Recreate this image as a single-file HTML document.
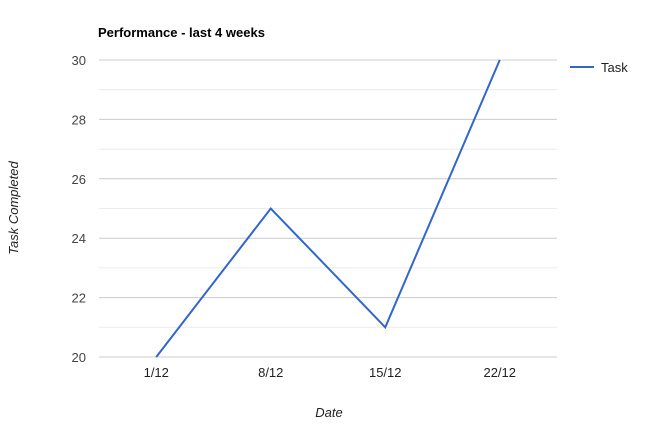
<!DOCTYPE html>
<html><head><meta charset="utf-8"><style>
html,body{margin:0;padding:0;background:#fff;}
svg{display:block;font-family:"Liberation Sans",Arial,sans-serif;}
</style></head><body>
<svg id="chart" width="652" height="426">
<text x="98" y="37" font-size="13" font-weight="bold" fill="#000">Performance - last 4 weeks</text>
<g id="grid"></g>
<g id="yticks"></g>
<g id="xticks"></g>
<g id="series"></g>
<text transform="translate(18,208) rotate(-90)" text-anchor="middle" font-size="13" font-style="italic" fill="#222">Task Completed</text>
<text x="329" y="417" text-anchor="middle" font-size="13" font-style="italic" fill="#222">Date</text>
<g>
<line x1="570" y1="67" x2="594" y2="67" stroke="#3366cc" stroke-width="2"/>
<text x="601" y="72" font-size="13" fill="#222">Task</text>
</g>
</svg>
<script>
const categories = ["1/12","8/12","15/12","22/12"];
const taskValues = [20,25,21,30];
const yTicks = [20,22,24,26,28,30];
const yMinor = [21,23,25,27,29];

const NS="http://www.w3.org/2000/svg";
const L=99,R=557,T=60,B=357,yMin=20,yMax=30;
const band=(R-L)/categories.length;
function xs(i){return L+band*(i+0.5);}
function ys(v){return B-(v-yMin)/(yMax-yMin)*(B-T);}
function mk(tag,attrs,parent){const e=document.createElementNS(NS,tag);for(const k in attrs)e.setAttribute(k,attrs[k]);parent.appendChild(e);return e;}
const grid=document.getElementById('grid'),yt=document.getElementById('yticks'),xt=document.getElementById('xticks'),ser=document.getElementById('series');
yMinor.forEach(v=>{const l=mk('line',{x1:L,x2:R,y1:ys(v),y2:ys(v),stroke:'#ebebeb','stroke-width':1},grid);

});
yTicks.forEach(v=>{const l=mk('line',{x1:L,x2:R,y1:ys(v),y2:ys(v),stroke:'#ccc','stroke-width':1},grid);


const t=mk('text',{x:86,y:ys(v)+5,'text-anchor':'end','font-size':13,fill:'#444'},yt);t.textContent=v;

});
categories.forEach((c,i)=>{const t=mk('text',{x:xs(i),y:377,'text-anchor':'middle','font-size':13,fill:'#222'},xt);t.textContent=c;

});
const p=mk('polyline',{points:taskValues.map((v,i)=>xs(i)+','+ys(v)).join(' '),fill:'none',stroke:'#3366cc','stroke-width':2},ser);


</script>
</body></html>
